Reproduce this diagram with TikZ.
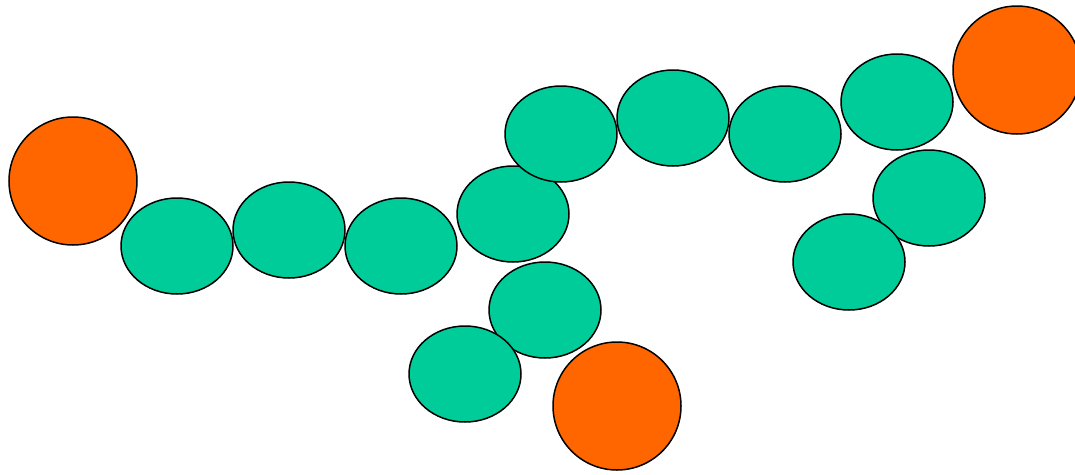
\documentclass[tikz,border=0pt]{standalone}
\usetikzlibrary{shapes.geometric}
\definecolor{bead}{HTML}{00CC99}
\definecolor{endcap}{HTML}{FF6600}
\tikzset{
  bead/.style={ellipse, draw=black, line width=1.5pt, fill=bead, minimum width=112pt, minimum height=96pt, inner sep=0pt},
  endbead/.style={circle, draw=black, line width=1.5pt, fill=endcap, minimum size=128pt, inner sep=0pt}
}
\begin{document}
\begin{tikzpicture}[x=1pt,y=-1pt]
\useasboundingbox (0,0) rectangle (1075,474);
\node[endbead] (o1) at (73,181) {};
\node[bead] (b1) at (177,246) {};
\node[bead] (b2) at (289,230) {};
\node[bead] (b3) at (401,246) {};
\node[bead] (b4) at (513,214) {};
\node[bead] (b5) at (561,134) {};
\node[bead] (b6) at (673,118) {};
\node[bead] (b7) at (785,134) {};
\node[bead] (b8) at (897,102) {};
\node[endbead] (o2) at (1017,70) {};
\node[bead] (b9) at (929,198) {};
\node[bead] (b10) at (849,262) {};
\node[bead] (b11) at (545,310) {};
\node[bead] (b12) at (465,374) {};
\node[endbead] (o3) at (617,406) {};
\end{tikzpicture}
\end{document}
